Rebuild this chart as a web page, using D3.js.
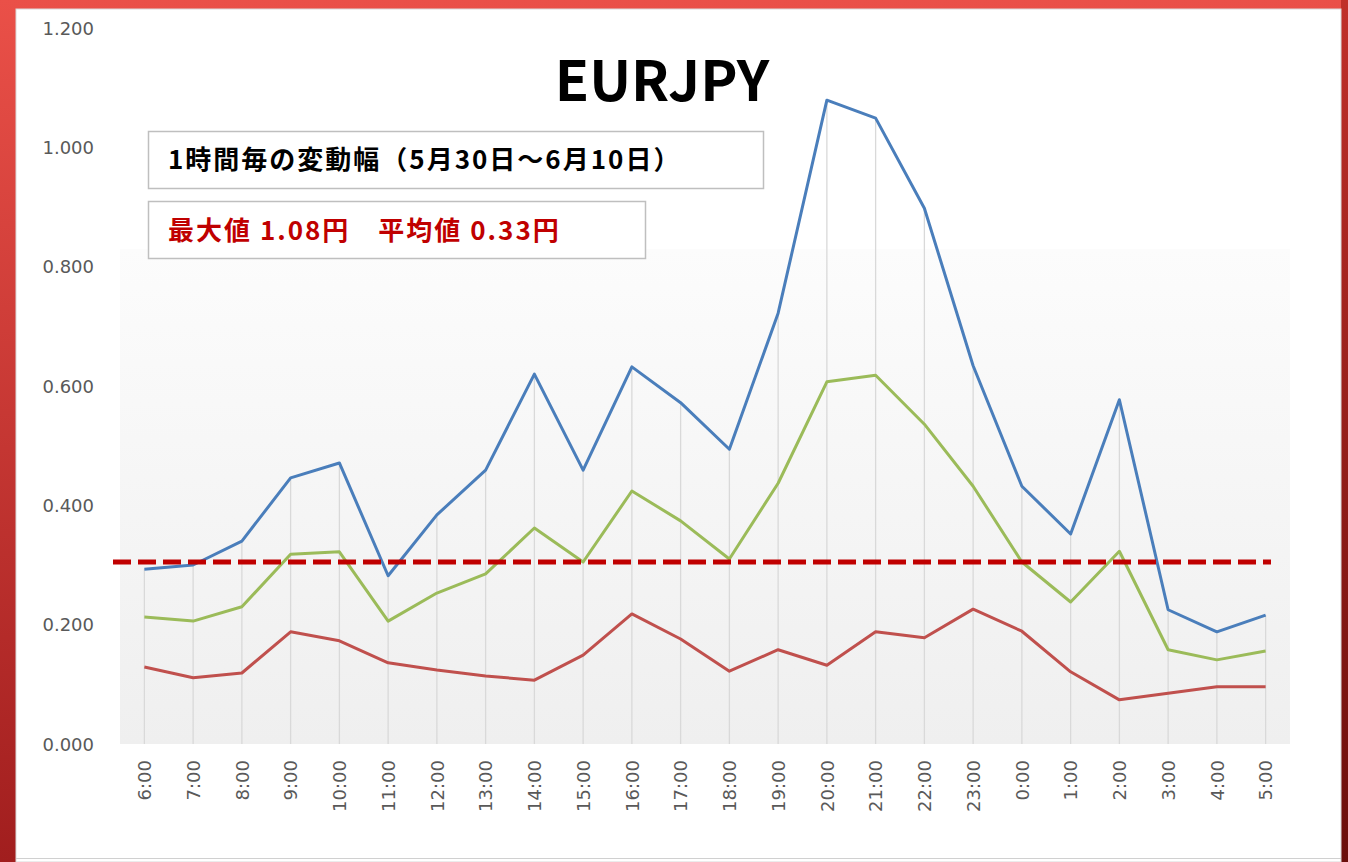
<!DOCTYPE html>
<html>
<head>
<meta charset="utf-8">
<script src="https://cdn.jsdelivr.net/npm/d3@7"></script>
<style>
  body { margin: 0; background: #fff; }
  svg { display: block; }
  .ylab, .xlab { font-family: "DejaVu Sans", sans-serif; font-size: 18px; fill: #595959; }
  .jp { font-family: "Noto Sans CJK JP", sans-serif; font-weight: bold; }
</style>
</head>
<body>
<div id="chart"></div>
<script>
// hourly categories (JST)
const hours = ["6:00","7:00","8:00","9:00","10:00","11:00","12:00","13:00","14:00","15:00","16:00","17:00",
               "18:00","19:00","20:00","21:00","22:00","23:00","0:00","1:00","2:00","3:00","4:00","5:00"]

// max range per hour
const maxRange = [0.293,0.300,0.340,0.446,0.471,0.282,0.384,0.459,0.620,0.459,0.632,0.572,
                  0.494,0.722,1.079,1.049,0.898,0.634,0.432,0.352,0.577,0.225,0.188,0.216]
// average range per hour
const avgRange = [0.213,0.206,0.230,0.318,0.322,0.206,0.253,0.285,0.362,0.305,0.424,0.374,
                  0.310,0.437,0.607,0.618,0.536,0.432,0.305,0.238,0.323,0.158,0.141,0.156]
// min range per hour
const minRange = [0.129,0.111,0.119,0.188,0.173,0.136,0.124,0.114,0.107,0.149,0.218,0.176,
                  0.122,0.158,0.132,0.188,0.178,0.226,0.189,0.121,0.074,0.085,0.096,0.096]

const refLine = 0.305
const yTicks = [0, 0.2, 0.4, 0.6, 0.8, 1.0, 1.2]

const title = "EURJPY"
const subtitle = "1時間毎の変動幅（5月30日～6月10日）"
const summary = "最大値 1.08円　平均値 0.33円"

const W = 1348, H = 862
const plot = {left: 120, right: 1290, top: 28, bottom: 744}

const svg = d3.select("#chart").append("svg")
  .attr("width", W)
  .attr("height", H)

const defs = svg.append("defs")

let frameGrad = defs.append("linearGradient").attr("id", "frame")
  .attr("x1", 0).attr("y1", 0).attr("x2", 0).attr("y2", 1)
frameGrad.append("stop").attr("offset", "0%").attr("stop-color", "#ea5048")
frameGrad.append("stop").attr("offset", "100%").attr("stop-color", "#a11e1e")

let rightGrad = defs.append("linearGradient").attr("id", "rightEdge")
  .attr("x1", 0).attr("y1", 0).attr("x2", 0).attr("y2", 1)
rightGrad.append("stop").attr("offset", "0%").attr("stop-color", "#c0302a")
rightGrad.append("stop").attr("offset", "100%").attr("stop-color", "#6a0e0b")

let plotGrad = defs.append("linearGradient").attr("id", "plotbg")
  .attr("x1", 0).attr("y1", 0).attr("x2", 0).attr("y2", 1)
plotGrad.append("stop").attr("offset", "0%").attr("stop-color", "#fcfcfc")
plotGrad.append("stop").attr("offset", "100%").attr("stop-color", "#efefef")

// red slide frame round the pasted sheet
svg.append("rect").attr("width", W).attr("height", H).attr("fill", "url(#frame)")
svg.append("rect").attr("x", 1341).attr("width", 7).attr("height", H).attr("fill", "url(#rightEdge)")

// the sheet itself
svg.append("rect")
  .attr("x", 16).attr("y", 9)
  .attr("width", 1325).attr("height", H - 9)
  .attr("fill", "#fff")
  .attr("stroke", "#d9d9d9")
svg.append("line")
  .attr("x1", 16).attr("x2", 1341).attr("y1", 858.5).attr("y2", 858.5)
  .attr("stroke", "#d0d0d0")

const x = d3.scalePoint()
  .domain(hours)
  .range([plot.left, plot.right])
  .padding(0.5)

const y = d3.scaleLinear()
  .domain([0, 1.2])
  .range([plot.bottom, plot.top])

// plot area gradient (only lower part is tinted in the original)
svg.append("rect")
  .attr("x", plot.left).attr("y", 249)
  .attr("width", plot.right - plot.left)
  .attr("height", plot.bottom - 249)
  .attr("fill", "url(#plotbg)")

// drop lines from the highest series to the axis
svg.append("g").selectAll("line")
  .data(hours)
  .join("line")
  .attr("x1", d => x(d)).attr("x2", d => x(d))
  .attr("y1", (d, i) => y(maxRange[i]))
  .attr("y2", y(0))
  .attr("stroke", "#d9d9d9")
  .attr("stroke-width", 1.3)

// y axis labels
const yAxis = d3.axisLeft(y)
  .tickValues(yTicks)
  .tickSize(0)
  .tickPadding(0)
  .tickFormat(d3.format(".3f"))

svg.append("g")
  .attr("transform", "translate(94,0)")
  .call(yAxis)
  .call(g => g.select(".domain").remove())
  .selectAll("text")
  .attr("class", "ylab")
  .attr("font-family", null).attr("font-size", null)
  .attr("fill", null)
  .attr("dy", "0.35em")

// x axis labels, rotated
const xAxis = d3.axisBottom(x)
  .tickSize(0)
  .tickPadding(0)

svg.append("g")
  .attr("transform", "translate(0," + plot.bottom + ")")
  .call(xAxis)
  .call(g => g.select(".domain").remove())
  .selectAll("text")
  .attr("class", "xlab")
  .attr("font-family", null).attr("font-size", null)
  .attr("fill", null)
  .attr("text-anchor", "end")
  .attr("transform", "rotate(-90)")
  .attr("x", -16)
  .attr("y", 0)
  .attr("dy", "0.35em")

const line = d3.line()
  .x((d, i) => x(hours[i]))
  .y(d => y(d))

const series = [
  {values: minRange, color: "#c0504d"},
  {values: avgRange, color: "#9bbb59"},
  {values: maxRange, color: "#4a7ebb"}
]

svg.append("g").selectAll("path")
  .data(series)
  .join("path")
  .attr("d", d => line(d.values))
  .attr("fill", "none")
  .attr("stroke", d => d.color)
  .attr("stroke-width", 3)
  .attr("stroke-linejoin", "round")

// average reference line
svg.append("line")
  .attr("x1", 113).attr("x2", 1271)
  .attr("y1", y(refLine)).attr("y2", y(refLine))
  .attr("stroke", "#c00000")
  .attr("stroke-width", 5)
  .attr("stroke-dasharray", "18,7")

// title and annotation boxes
svg.append("text")
  .attr("class", "jp")
  .attr("x", 662).attr("y", 101)
  .attr("text-anchor", "middle")
  .attr("font-size", 56)
  .attr("fill", "#000")
  .text(title)

svg.append("rect")
  .attr("x", 148.5).attr("y", 131.5)
  .attr("width", 615).attr("height", 57)
  .attr("fill", "#fff")
  .attr("stroke", "#bfbfbf")
  .attr("stroke-width", 1.5)
svg.append("text")
  .attr("class", "jp")
  .attr("x", 168).attr("y", 169)
  .attr("font-size", 26)
  .attr("letter-spacing", 2)
  .attr("fill", "#000")
  .text(subtitle)

svg.append("rect")
  .attr("x", 148.5).attr("y", 201.5)
  .attr("width", 497).attr("height", 57)
  .attr("fill", "#fff")
  .attr("stroke", "#bfbfbf")
  .attr("stroke-width", 1.5)
svg.append("text")
  .attr("class", "jp")
  .attr("x", 168).attr("y", 240)
  .attr("font-size", 26)
  .attr("letter-spacing", 2)
  .attr("fill", "#c00000")
  .text(summary)
</script>
</body>
</html>
